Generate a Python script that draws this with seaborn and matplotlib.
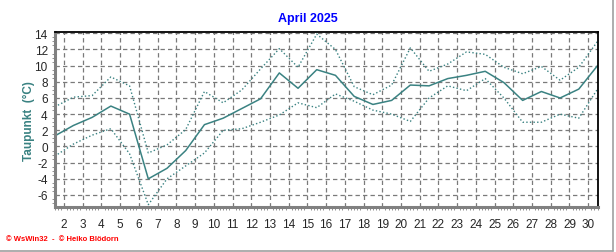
import numpy as np
import pandas as pd
import matplotlib
matplotlib.use("Agg")
import matplotlib.pyplot as plt
from matplotlib.lines import Line2D
from matplotlib.ticker import FixedLocator, MultipleLocator
import seaborn as sns

# ---- data (daily dew point, April 2025) ----
days = list(range(1, 31))
taupunkt_mittel = [1.3, 2.6, 3.6, 5.0, 4.0, -4.0, -2.7, -0.5, 2.7, 3.5,
                   4.7, 5.9, 9.1, 7.2, 9.5, 8.8, 6.2, 5.2, 5.7, 7.6,
                   7.5, 8.4, 8.8, 9.3, 7.9, 5.7, 6.8, 6.0, 7.1, 10.0]
taupunkt_max = [4.9, 6.1, 6.3, 8.6, 7.5, -0.8, 0.2, 2.1, 6.8, 5.4,
                7.0, 9.6, 12.1, 9.8, 13.9, 12.0, 7.4, 6.4, 7.6, 12.2,
                9.3, 10.2, 11.7, 11.4, 9.8, 9.0, 9.9, 8.2, 9.8, 13.0]
taupunkt_min = [-1.2, 0.3, 1.4, 2.2, -0.9, -7.2, -4.0, -2.4, -0.8, 2.0,
                2.2, 3.0, 3.9, 5.4, 4.8, 6.5, 5.6, 4.5, 4.0, 3.1,
                6.0, 7.5, 6.9, 8.4, 6.0, 3.0, 3.0, 4.0, 3.5, 7.1]
x_labels = list(range(2, 31))
y_labels = list(range(-6, 15, 2))

title = "April 2025"
ylabel = "Taupunkt  (°C)"
footer = "© WsWin32  -  © Heiko Blödorn"

sns.set_style("white")
plt.rcParams["font.family"] = ["Liberation Sans", "DejaVu Sans"]

df = pd.DataFrame({"day": days, "mittel": taupunkt_mittel,
                   "max": taupunkt_max, "min": taupunkt_min})
df["x"] = df["day"] + 0.5  # daily values plotted at noon

teal = "#3a8282"

fig = plt.figure(figsize=(6.16, 2.53), dpi=100)
fig.patch.set_facecolor("white")
ax = fig.add_axes([0.0888, 0.179, 0.970 - 0.0888, 0.8676 - 0.179])

sns.lineplot(data=df, x="x", y="max", ax=ax, color=teal, lw=1.0,
             linestyle=(0, (1, 1.6)), estimator=None, sort=False)
sns.lineplot(data=df, x="x", y="min", ax=ax, color=teal, lw=1.0,
             linestyle=(0, (1, 1.6)), estimator=None, sort=False)
sns.lineplot(data=df, x="x", y="mittel", ax=ax, color=teal, lw=1.1,
             estimator=None, sort=False)

ax.set_xlim(1.5, 30.5)
ax.set_ylim(-7.45, 14.1)

ax.xaxis.set_major_locator(FixedLocator(x_labels))
ax.set_xticklabels([str(v) for v in x_labels])
ax.xaxis.set_minor_locator(FixedLocator(np.arange(1.5, 30.6, 1 / 6)))
ax.yaxis.set_major_locator(FixedLocator(y_labels))
ax.set_yticklabels([str(v) for v in y_labels])
ax.yaxis.set_minor_locator(MultipleLocator(0.5))

ax.grid(True, which="major", color="#7a7a7a", linestyle=(0, (3.5, 2.5)), lw=0.9)
ax.set_axisbelow(True)

ax.tick_params(axis="x", which="major", direction="out", length=4, width=0.8,
               color="#808080", labelsize=8.5, pad=4)
ax.tick_params(axis="x", which="minor", direction="out", length=2.5, width=0.6,
               color="#808080", bottom=True)
ax.tick_params(axis="y", which="major", direction="out", length=3, width=0.8,
               color="#808080", labelsize=8.5, pad=2)
ax.tick_params(axis="y", which="minor", direction="out", length=2, width=0.6,
               color="#808080", left=True)

for s in ["left", "bottom"]:
    ax.spines[s].set_color("#808080")
    ax.spines[s].set_linewidth(2.2)
for s in ["top", "right"]:
    ax.spines[s].set_color("black")
    ax.spines[s].set_linewidth(1.3)

ax.set_xlabel("")
ax.set_ylabel(ylabel, color=teal, fontsize=8.5, fontweight="bold", labelpad=0)

fig.text(0.5, 1 - 19 / 253, title, ha="center", va="center", color="#0000ff",
         fontsize=9, fontweight="bold")
fig.text(6 / 616, 1 - 240 / 253, footer, ha="left", va="center", color="#ff0000",
         fontsize=5.5, fontweight="bold")

fig.add_artist(Line2D([613 / 616, 613 / 616], [1.0, 1 - 252 / 253],
                      transform=fig.transFigure, color="#a0a0a0", lw=1.2))
fig.add_artist(Line2D([0, 613 / 616], [1 - 252 / 253, 1 - 252 / 253],
                      transform=fig.transFigure, color="#a0a0a0", lw=1.2))

fig.savefig("out.png", dpi=100, facecolor="white")
